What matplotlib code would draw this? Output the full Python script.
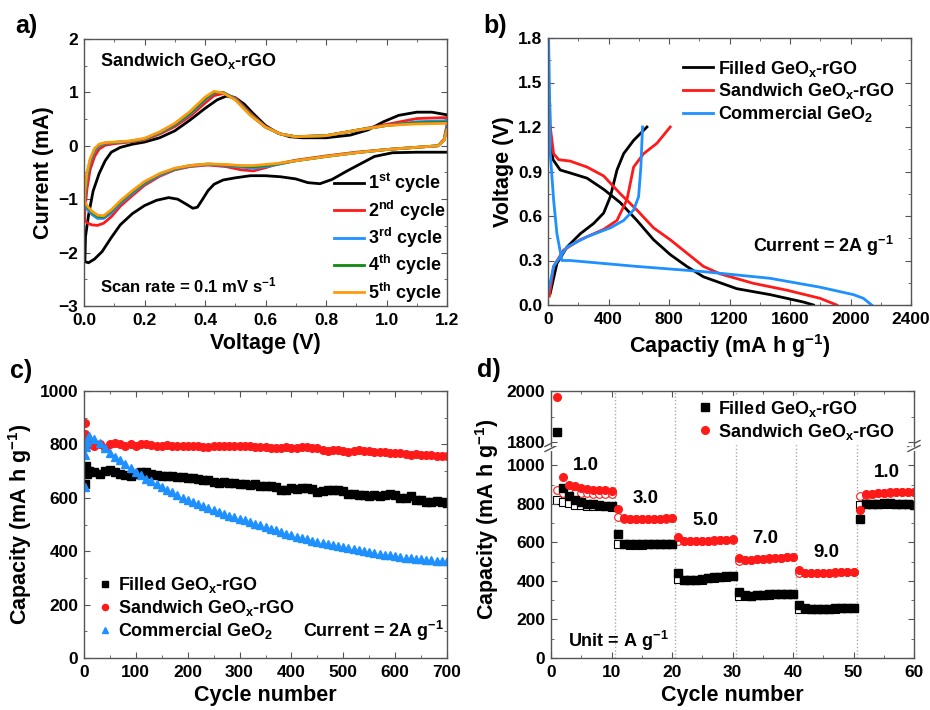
import matplotlib
matplotlib.use('Agg')
import matplotlib.pyplot as plt
from matplotlib.ticker import MultipleLocator

# ---------------- data ----------------
# Panel a: CV curves (cathodic branch 1.2 -> 0 V, then anodic branch 0 -> 1.2 V)
cv1_v = [1.2, 1.10, 1.02, 0.96, 0.92, 0.87, 0.82, 0.78, 0.74, 0.70, 0.65, 0.60, 0.55, 0.50, 0.46, 0.43,
         0.41, 0.39, 0.375, 0.36, 0.34, 0.31, 0.28, 0.24, 0.20, 0.16, 0.12, 0.09, 0.06, 0.035, 0.015, 0.003,
         0.005, 0.015, 0.03, 0.05, 0.07, 0.09, 0.12, 0.16, 0.20, 0.25, 0.30, 0.35, 0.40, 0.44, 0.47, 0.50,
         0.53, 0.56, 0.60, 0.64, 0.68, 0.72, 0.80, 0.88, 0.94, 0.99, 1.04, 1.10, 1.15, 1.2]
cv1_i = [-0.12, -0.12, -0.13, -0.20, -0.32, -0.47, -0.63, -0.71, -0.69, -0.62, -0.58, -0.56, -0.56, -0.60, -0.64, -0.72,
         -0.84, -1.02, -1.15, -1.17, -1.10, -1.00, -0.97, -1.02, -1.12, -1.27, -1.48, -1.72, -1.98, -2.12, -2.19, -2.17,
         -1.70, -1.30, -0.85, -0.52, -0.28, -0.12, -0.03, 0.03, 0.07, 0.15, 0.28, 0.48, 0.70, 0.86, 0.93, 0.90,
         0.78, 0.60, 0.38, 0.24, 0.17, 0.15, 0.15, 0.20, 0.30, 0.45, 0.57, 0.63, 0.63, 0.58]

cvN_v = [1.2, 1.19, 1.17, 1.12, 1.0, 0.9, 0.8, 0.7, 0.64, 0.6, 0.56, 0.52, 0.47, 0.41, 0.35, 0.30, 0.25,
         0.20, 0.16, 0.12, 0.09, 0.065, 0.045, 0.025, 0.01, 0.002,
         0.003, 0.01, 0.02, 0.035, 0.05, 0.07, 0.1, 0.15, 0.2, 0.25, 0.3, 0.35, 0.4, 0.43, 0.46, 0.5,
         0.55, 0.6, 0.65, 0.7, 0.8, 0.9, 1.0, 1.1, 1.2]
cv2_i = [0.40, 0.12, 0.0, -0.02, -0.07, -0.12, -0.19, -0.27, -0.34, -0.41, -0.47, -0.45, -0.39, -0.36, -0.39, -0.45, -0.57,
         -0.74, -0.93, -1.13, -1.33, -1.45, -1.49, -1.48, -1.44, -1.40,
         -1.20, -0.80, -0.45, -0.20, -0.06, 0.01, 0.04, 0.07, 0.11, 0.22, 0.36, 0.55, 0.80, 0.94, 0.98, 0.90,
         0.61, 0.36, 0.22, 0.17, 0.19, 0.29, 0.40, 0.51, 0.53]
cv3_i = [0.35, 0.10, 0.0, -0.02, -0.07, -0.13, -0.20, -0.28, -0.35, -0.39, -0.42, -0.40, -0.37, -0.35, -0.38, -0.44, -0.55,
         -0.71, -0.89, -1.08, -1.26, -1.36, -1.36, -1.28, -1.18, -1.10,
         -0.95, -0.60, -0.32, -0.10, 0.0, 0.04, 0.06, 0.08, 0.125, 0.24, 0.39, 0.59, 0.86, 0.99, 1.00, 0.88,
         0.59, 0.35, 0.22, 0.17, 0.19, 0.29, 0.38, 0.45, 0.47]
cv4_i = [0.32, 0.10, 0.0, -0.02, -0.07, -0.13, -0.20, -0.28, -0.34, -0.37, -0.39, -0.38, -0.36, -0.34, -0.37, -0.43, -0.53,
         -0.69, -0.86, -1.05, -1.22, -1.33, -1.32, -1.24, -1.14, -1.06,
         -0.90, -0.55, -0.28, -0.07, 0.02, 0.05, 0.065, 0.085, 0.13, 0.25, 0.40, 0.61, 0.88, 1.00, 1.00, 0.87,
         0.58, 0.35, 0.22, 0.17, 0.19, 0.29, 0.38, 0.43, 0.44]
cv5_i = [0.30, 0.10, 0.0, -0.02, -0.07, -0.13, -0.20, -0.28, -0.33, -0.35, -0.37, -0.37, -0.35, -0.34, -0.37, -0.42, -0.52,
         -0.67, -0.84, -1.03, -1.20, -1.31, -1.30, -1.22, -1.12, -1.04,
         -0.85, -0.50, -0.25, -0.05, 0.03, 0.06, 0.07, 0.09, 0.14, 0.26, 0.42, 0.64, 0.91, 1.02, 0.99, 0.86,
         0.57, 0.35, 0.22, 0.17, 0.19, 0.29, 0.38, 0.41, 0.42]
cycle_labels = ['1$^{st}$ cycle', '2$^{nd}$ cycle', '3$^{rd}$ cycle', '4$^{th}$ cycle', '5$^{th}$ cycle']

# Panel b: charge/discharge profiles
fill_dis_c = [11, 15, 33, 81, 147, 258, 368, 478, 588, 698, 808, 918, 1028, 1248, 1468, 1689, 1755]
fill_dis_v = [1.36, 1.11, 0.98, 0.91, 0.89, 0.855, 0.78, 0.69, 0.57, 0.44, 0.34, 0.26, 0.19, 0.11, 0.07, 0.02, 0.0]
fill_chg_c = [15, 59, 125, 213, 302, 368, 412, 456, 500, 566, 654]
fill_chg_v = [0.08, 0.28, 0.39, 0.48, 0.55, 0.62, 0.73, 0.91, 1.02, 1.11, 1.2]
sand_dis_c = [15, 37, 70, 147, 258, 368, 478, 588, 698, 808, 918, 1028, 1138, 1358, 1579, 1799, 1909]
sand_dis_v = [1.2, 1.02, 0.98, 0.97, 0.93, 0.87, 0.75, 0.64, 0.52, 0.44, 0.35, 0.26, 0.21, 0.146, 0.10, 0.045, 0.0]
sand_chg_c = [9, 37, 103, 213, 368, 456, 522, 566, 632, 720, 808]
sand_chg_v = [0.06, 0.26, 0.37, 0.44, 0.51, 0.57, 0.71, 0.93, 1.02, 1.09, 1.2]
comm_dis_c = [4, 11, 15, 37, 59, 92, 147, 588, 1028, 1468, 1799, 2019, 2085, 2140]
comm_dis_v = [1.8, 1.38, 1.02, 0.71, 0.48, 0.30, 0.30, 0.26, 0.225, 0.18, 0.12, 0.07, 0.045, 0.0]
comm_chg_c = [4, 37, 125, 258, 412, 500, 566, 599, 614, 625]
comm_chg_v = [0.10, 0.26, 0.39, 0.46, 0.52, 0.57, 0.64, 0.73, 0.93, 1.2]

# Panel c: cycling at 2 A/g
cyc_c = [1, 2, 3, 5] + list(range(10, 701, 10))
filled_c = [650, 700, 720, 690,
            700, 695, 690, 700, 705, 695, 690, 685, 683, 690, 695, 695, 690, 685, 683, 680, 680, 678, 677, 675,
            675, 672, 668, 665, 660, 655, 658, 655, 655, 652, 650, 648, 650, 645, 643, 645, 640, 630, 628, 635,
            632, 635, 638, 632, 620, 625, 630, 628, 630, 625, 615, 615, 610, 612, 608, 610, 605, 612, 615, 610,
            598, 600, 605, 590, 590, 585, 585, 588, 585, 580]
sandwich_c = [880, 840, 820, 810,
              800, 795, 800, 785, 800, 805, 800, 795, 800, 795, 800, 800, 798, 795, 795, 797, 795, 795, 793, 795,
              795, 793, 792, 790, 795, 795, 795, 793, 795, 795, 795, 793, 792, 790, 790, 788, 785, 785, 790, 788,
              788, 790, 790, 787, 785, 780, 775, 778, 780, 775, 772, 775, 778, 777, 775, 772, 772, 770, 768, 768,
              768, 765, 762, 763, 762, 760, 760, 758, 757, 755]
commercial_c = [640, 760, 790, 810,
                830, 820, 805, 785, 768, 752, 740, 725, 710, 697, 685, 672, 662, 651, 641, 630, 620, 610, 601, 593,
                585, 577, 568, 560, 553, 546, 540, 533, 527, 521, 515, 509, 503, 497, 491, 485, 478, 471, 465, 460,
                455, 449, 444, 440, 435, 431, 427, 423, 419, 416, 412, 408, 404, 400, 397, 393, 390, 387, 384, 381,
                379, 376, 374, 372, 370, 368, 367, 365, 364, 363]

# Panel d: rate capability
cyc_d = list(range(1, 61))
filled_d = [1839, 884, 840, 820, 809, 800, 797, 793, 790, 788,
            645, 590, 589, 589, 589, 589, 590, 592, 593, 594,
            442, 406, 404, 405, 408, 414, 418, 421, 423, 425,
            343, 325, 324, 326, 328, 330, 331, 332, 333, 334,
            277, 257, 255, 255, 256, 256, 257, 258, 259, 260,
            723, 797, 800, 801, 802, 802, 801, 800, 799, 794]
filled_d_open = [820, 809, 802, 794, 792, 790, 789, 788, 787, 786,
                 593, 589, 588, 588, 588, 589, 590, 591, 592, 593,
                 411, 404, 403, 404, 407, 413, 417, 420, 422, 424,
                 321, 323, 323, 325, 327, 329, 330, 331, 332, 333,
                 255, 254, 254, 254, 255, 255, 256, 257, 258, 259,
                 794, 797, 799, 800, 801, 801, 800, 799, 798, 793]
sand_d = [1977, 939, 898, 893, 880, 876, 874, 872, 870, 867,
          775, 725, 722, 720, 720, 721, 722, 723, 724, 727,
          627, 608, 607, 607, 608, 609, 610, 612, 614, 615,
          520, 510, 511, 513, 515, 517, 519, 521, 523, 525,
          459, 443, 442, 442, 443, 443, 444, 445, 446, 447,
          768, 849, 853, 856, 858, 859, 860, 860, 861, 861]
sand_d_open = [870, 858, 861, 858, 855, 854, 853, 853, 852, 852,
               733, 722, 720, 719, 719, 720, 721, 722, 723, 726,
               607, 606, 606, 606, 607, 608, 609, 611, 613, 614,
               503, 509, 510, 512, 514, 516, 518, 520, 522, 524,
               442, 442, 441, 441, 442, 442, 443, 444, 445, 446,
               841, 848, 852, 855, 857, 858, 859, 859, 860, 860]
rate_bounds = [10.5, 20.5, 30.5, 40.5, 50.5]
rate_labels = ['1.0', '3.0', '5.0', '7.0', '9.0', '1.0']
rate_label_x = [5.8, 15.6, 25.6, 35.4, 45.5, 55.5]
rate_label_y = [997, 827, 711, 620, 546, 965]

# ---------------- style ----------------
plt.rcParams.update({
    'font.family': ['Liberation Sans', 'DejaVu Sans'],
    'font.weight': 'bold',
    'axes.labelweight': 'bold',
    'mathtext.default': 'regular',
    'font.size': 12.5,
    'axes.linewidth': 1.0,
    'axes.edgecolor': '#555555',
    'xtick.direction': 'in', 'ytick.direction': 'in',
    'xtick.top': True, 'ytick.right': True,
    'xtick.minor.visible': True, 'ytick.minor.visible': True,
    'xtick.major.size': 4, 'ytick.major.size': 4,
    'xtick.minor.size': 2.2, 'ytick.minor.size': 2.2,
    'xtick.color': '#555555', 'ytick.color': '#555555',
    'xtick.labelcolor': 'black', 'ytick.labelcolor': 'black',
    'xtick.major.pad': 5, 'ytick.major.pad': 4,
    'axes.labelsize': 15.5,
    'legend.fontsize': 13,
})

BLK = '#000000'
RED = '#ff1a1a'
BLU = '#1e90ff'
GRN = '#108a10'
ORG = '#ff9a10'

W, H = 930, 710
fig = plt.figure(figsize=(9.3, 7.1), dpi=100)

def rect(l, r, t, b):
    return [l / W, 1 - b / H, (r - l) / W, (b - t) / H]

# ---------------- panel a ----------------
axA = fig.add_axes(rect(84, 447, 39, 306))
axA.plot(cv1_v, cv1_i, color=BLK, lw=2, label=cycle_labels[0])
for cur, col, lab in zip([cv2_i, cv3_i, cv4_i, cv5_i], [RED, BLU, GRN, ORG], cycle_labels[1:]):
    axA.plot(cvN_v, cur, color=col, lw=2, label=lab)
axA.set_xlim(0, 1.2)
axA.set_ylim(-3, 2)
axA.xaxis.set_major_locator(MultipleLocator(0.2))
axA.xaxis.set_minor_locator(MultipleLocator(0.1))
axA.yaxis.set_major_locator(MultipleLocator(1))
axA.yaxis.set_minor_locator(MultipleLocator(0.5))
axA.xaxis.set_major_formatter(plt.FuncFormatter(lambda v, p: f'{v:.1f}'))
axA.set_xlabel('Voltage (V)')
axA.set_ylabel('Current (mA)', labelpad=3)
axA.text(0.053, 1.59, 'Sandwich GeO$_x$-rGO', fontsize=13, va='center', ha='left')
axA.text(0.053, -2.61, 'Scan rate = 0.1 mV s$^{-1}$', fontsize=12, va='center', ha='left')
axA.legend(loc='center left', bbox_to_anchor=(0.688, 0.255), frameon=False, borderpad=0,
           borderaxespad=0, handlelength=1.67, handletextpad=0.25, labelspacing=0.18)

# ---------------- panel b ----------------
axB = fig.add_axes(rect(548, 911, 38, 305))
axB.plot(fill_dis_c, fill_dis_v, color=BLK, lw=2, label='Filled GeO$_x$-rGO')
axB.plot(fill_chg_c, fill_chg_v, color=BLK, lw=2)
axB.plot(sand_dis_c, sand_dis_v, color=RED, lw=2, label='Sandwich GeO$_x$-rGO')
axB.plot(sand_chg_c, sand_chg_v, color=RED, lw=2)
axB.plot(comm_dis_c, comm_dis_v, color=BLU, lw=2, label='Commercial GeO$_2$')
axB.plot(comm_chg_c, comm_chg_v, color=BLU, lw=2)
axB.set_xlim(0, 2400)
axB.set_ylim(0, 1.8)
axB.xaxis.set_major_locator(MultipleLocator(400))
axB.xaxis.set_minor_locator(MultipleLocator(200))
axB.yaxis.set_major_locator(MultipleLocator(0.3))
axB.yaxis.set_minor_locator(MultipleLocator(0.15))
axB.yaxis.set_major_formatter(plt.FuncFormatter(lambda v, p: f'{v:.1f}'))
axB.set_xlabel('Capactiy (mA h g$^{-1}$)')
axB.set_ylabel('Voltage (V)', labelpad=3)
axB.text(1355, 0.398, 'Current = 2A g$^{-1}$', fontsize=13, va='center', ha='left')
axB.legend(loc='center left', bbox_to_anchor=(0.372, 0.80), frameon=False, borderpad=0,
           borderaxespad=0, handlelength=1.67, handletextpad=0.25, labelspacing=0.15)

# ---------------- panel c ----------------
axC = fig.add_axes(rect(84, 447, 391, 658))
axC.plot(cyc_c, filled_c, 's', color=BLK, ms=5.5, ls='none', label='Filled GeO$_x$-rGO')
axC.plot(cyc_c, sandwich_c, 'o', color=RED, ms=5.5, ls='none', label='Sandwich GeO$_x$-rGO')
axC.plot(cyc_c, commercial_c, '^', color=BLU, ms=6, ls='none', label='Commercial GeO$_2$')
axC.set_xlim(0, 700)
axC.set_ylim(0, 1000)
axC.xaxis.set_major_locator(MultipleLocator(100))
axC.xaxis.set_minor_locator(MultipleLocator(50))
axC.yaxis.set_major_locator(MultipleLocator(200))
axC.yaxis.set_minor_locator(MultipleLocator(100))
axC.set_xlabel('Cycle number')
axC.set_ylabel('Capacity (mA h g$^{-1}$)', labelpad=4)
axC.text(422, 101, 'Current = 2A g$^{-1}$', fontsize=13, va='center', ha='left')
axC.legend(loc='center left', bbox_to_anchor=(0.044, 0.187), frameon=False, borderpad=0,
           borderaxespad=0, handlelength=0.6, handletextpad=0.4, labelspacing=0.18, markerscale=0.8)

# ---------------- panel d (broken axis) ----------------
axD = fig.add_axes(rect(551, 914, 446, 658))
axDu = fig.add_axes(rect(551, 914, 391, 446))
for ax in (axD, axDu):
    for xb in rate_bounds:
        ax.axvline(xb, color='#aaaaaa', lw=1, ls=(0, (1, 1.5)), zorder=0)
    ax.plot(cyc_d, filled_d, 's', color=BLK, ms=5.5, ls='none', label='Filled GeO$_x$-rGO', zorder=2)
    ax.plot(cyc_d, sand_d, 'o', color=RED, ms=5.5, ls='none', label='Sandwich GeO$_x$-rGO', zorder=2)
    ax.plot(cyc_d, filled_d_open, 's', mfc='white', mec=BLK, mew=0.8, ms=5.5, ls='none', zorder=1)
    ax.plot(cyc_d, sand_d_open, 'o', mfc='white', mec=RED, mew=0.8, ms=5.5, ls='none', zorder=1)
    ax.set_xlim(0, 60)
    ax.xaxis.set_major_locator(MultipleLocator(10))
    ax.xaxis.set_minor_locator(MultipleLocator(5))
axD.set_ylim(0, 1100)
axD.set_yticks([0, 200, 400, 600, 800, 1000])
axD.yaxis.set_minor_locator(MultipleLocator(100))
axDu.set_ylim(1785, 2000)
axDu.set_yticks([1800, 2000])
axDu.yaxis.set_minor_locator(MultipleLocator(100))
axD.spines['top'].set_visible(False)
axDu.spines['bottom'].set_visible(False)
axD.tick_params(axis='x', which='both', top=False)
axDu.tick_params(axis='x', which='both', bottom=False, labelbottom=False)
axD.set_xlabel('Cycle number')
axD.set_ylabel('Capacity (mA h g$^{-1}$)', labelpad=4, y=0.655)
for lab, xx, yy in zip(rate_labels, rate_label_x, rate_label_y):
    axD.text(xx, yy, lab, fontsize=13.5, ha='center', va='center')
axD.text(2.75, 87, 'Unit = A g$^{-1}$', fontsize=13, ha='left', va='center')
legD = axDu.legend(loc='center left', bbox_to_anchor=(0.402, 0.47), frameon=True, facecolor='white',
                   edgecolor='none', framealpha=1, borderpad=0.15, borderaxespad=0, handlelength=0.6,
                   handletextpad=0.4, labelspacing=0.15, fancybox=False)
legD.set_zorder(5)

# break marks on the left and right spines
for xs in (0.0, 1.0):
    axD.plot([xs, xs], [1 - 3 / 212, 1 + 3 / 212], color='white', lw=3, transform=axD.transAxes,
             clip_on=False, zorder=6)
    for off in (-2.5, 2.5):
        axD.plot([xs - 6 / 363, xs + 6 / 363], [1 + (off - 3) / 212, 1 + (off + 3) / 212],
                 color='#555555', lw=1, transform=axD.transAxes, clip_on=False, zorder=7)

# panel labels
for lab, x, y in [('a)', 15, 26), ('b)', 483, 26), ('c)', 10, 371), ('d)', 477, 370)]:
    fig.text(x / W, 1 - y / H, lab, fontsize=18, fontweight='bold', va='center', ha='left')

fig.savefig('out.png', dpi=100)
